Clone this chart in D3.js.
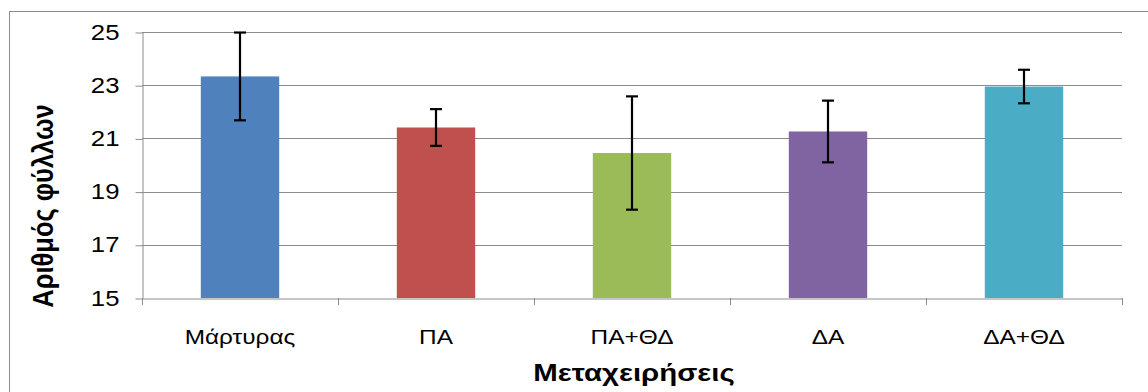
<!DOCTYPE html>
<html><head><meta charset="utf-8">
<script src="https://cdn.jsdelivr.net/npm/d3@7"></script>
<style>body{margin:0;background:#fff;overflow:hidden}svg{display:block}</style>
</head><body>
<svg id="c" width="1148" height="392"></svg>
<script>
const categories = ["Μάρτυρας","ΠΑ","ΠΑ+ΘΔ","ΔΑ","ΔΑ+ΘΔ"];
const means = [23.33, 21.41, 20.45, 21.26, 22.95];
const errors = [1.65, 0.69, 2.13, 1.16, 0.63];
const colors = ["#4F81BD","#C0504D","#9BBB59","#8064A2","#4BACC6"];
const yTicks = [15,17,19,21,23,25];
const yTitle = "Αριθμός φύλλων";
const xTitle = "Μεταχειρήσεις";

const svg = d3.select("#c");
const L=142, R=1122, T=32, B=298;
const SX = 1.2; // horizontal text stretch seen in the reference
const FONT = "Liberation Sans, Arial, sans-serif";
svg.append("rect").attr("x",9.5).attr("y",11.5).attr("width",1200).attr("height",500)
  .attr("fill","none").attr("stroke","#8c8c8c").attr("stroke-width",1);

const x = d3.scaleBand().domain(categories).range([L,R]).paddingInner(0.6).paddingOuter(0.3);
const xb = d3.scaleBand().domain(categories).range([L,R]).padding(0);
const y = d3.scaleLinear().domain([15,25]).range([B,T]);

// gridlines
svg.append("g").selectAll("line").data(yTicks.slice(1)).join("line")
  .attr("x1",L).attr("x2",R).attr("y1",d=>Math.round(y(d))+0.5).attr("y2",d=>Math.round(y(d))+0.5)
  .attr("stroke","#8c8c8c").attr("stroke-width",1);

// y axis
const ya = svg.append("g").attr("transform",`translate(${L+0.5},0)`)
  .call(d3.axisLeft(y).tickValues(yTicks).tickSize(7).tickPadding(23).tickSizeOuter(0));
ya.select(".domain").attr("stroke","#8c8c8c");
ya.selectAll(".tick line").attr("stroke","#8c8c8c").attr("transform","translate(0,0.5)");
ya.selectAll(".tick text").attr("font-family",FONT).attr("font-size",22).attr("fill","#000")
  .attr("transform",`translate(-23,0) scale(${SX-0.03},1)`).attr("x",0);

// bars
svg.append("g").selectAll("rect").data(categories).join("rect")
  .attr("x",d=>x(d)).attr("width",x.bandwidth())
  .attr("y",(d,i)=>y(means[i])).attr("height",(d,i)=>y(15)-y(means[i]))
  .attr("fill",(d,i)=>colors[i]);

// x axis
const xa = svg.append("g").attr("transform",`translate(0,${B+0.5})`)
  .call(d3.axisBottom(xb).tickSize(0).tickPadding(0).tickSizeOuter(0));
xa.select(".domain").attr("stroke","#8c8c8c");
xa.selectAll(".tick text").attr("font-family",FONT).attr("font-size",20)
  .attr("fill","#000").attr("dy",null).attr("y",0)
  .attr("transform",`translate(0,45) scale(${SX+0.02},1)`);
// boundary tick marks
svg.append("g").selectAll("line").data(d3.range(categories.length+1)).join("line")
  .attr("x1",i=>Math.round(L+i*xb.step())+0.5).attr("x2",i=>Math.round(L+i*xb.step())+0.5)
  .attr("y1",B).attr("y2",B+7).attr("stroke","#8c8c8c");

// error bars
const eb = svg.append("g").attr("stroke","#000").attr("stroke-width",2.2);
categories.forEach((c,i)=>{
  const cx = x(c)+x.bandwidth()/2;
  const y1 = y(means[i]+errors[i]), y2 = y(means[i]-errors[i]);
  eb.append("line").attr("x1",cx).attr("x2",cx).attr("y1",y1).attr("y2",y2);
  eb.append("line").attr("x1",cx-6).attr("x2",cx+6).attr("y1",y1).attr("y2",y1);
  eb.append("line").attr("x1",cx-6).attr("x2",cx+6).attr("y1",y2).attr("y2",y2);
});

// titles
svg.append("text").attr("transform",`translate(634,381) scale(${SX},1)`).attr("text-anchor","middle")
  .attr("font-family",FONT).attr("font-weight","bold").attr("font-size",24.5)
  .text(xTitle);
svg.append("text").attr("transform",`translate(53,206) scale(1.15,1) rotate(-90)`).attr("text-anchor","middle")
  .attr("font-family",FONT).attr("font-weight","bold").attr("font-size",25.5)
  .text(yTitle);
</script>
</body></html>
